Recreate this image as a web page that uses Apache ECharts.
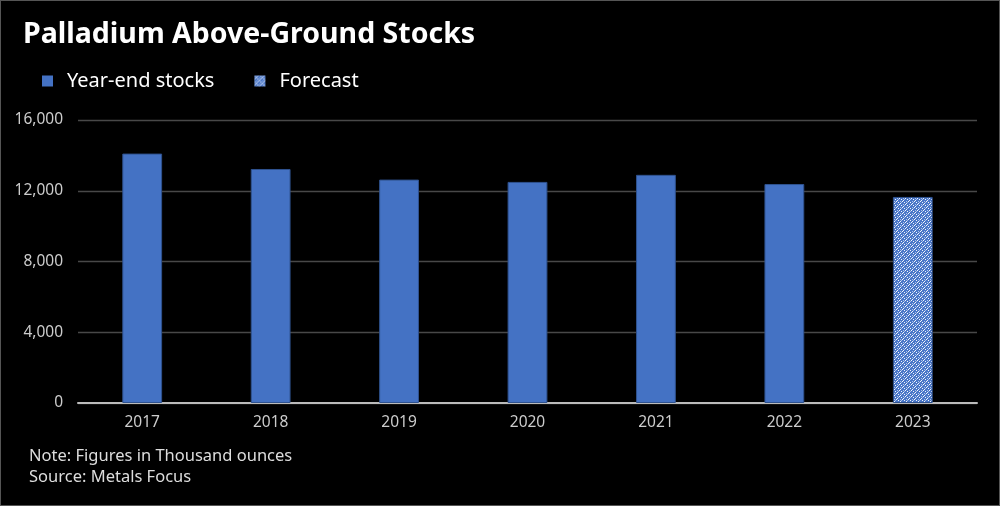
<!DOCTYPE html>
<html>
<head>
<meta charset="utf-8">
<script src="https://cdn.jsdelivr.net/npm/echarts@6/dist/echarts.min.js"></script>
<style>
html,body{margin:0;padding:0;background:#000;}
#c{width:1000px;height:506px;box-sizing:border-box;border:1px solid #555;}
</style>
</head>
<body>
<div id="c"></div>
<script>
const categories = ['2017','2018','2019','2020','2021','2022','2023'];
const stocks = [14100, 13230, 12630, 12500, 12900, 12380, null];
const forecast = [null, null, null, null, null, null, 11650];
const yTicks = [0, 4000, 8000, 12000, 16000];

function makePattern(){
  const c = document.createElement('canvas');
  c.width = 6; c.height = 6;
  const g = c.getContext('2d');
  g.fillStyle = '#4a77c8';
  g.fillRect(0,0,6,6);
  g.fillStyle = '#f2f5fc';
  g.fillRect(0,0,1,1); g.fillRect(3,3,1,1);
  g.fillRect(2,1,1,1); g.fillRect(1,2,1,1);
  g.fillRect(4,5,1,1); g.fillRect(5,4,1,1);
  g.fillStyle = '#a9bfe8';
  g.fillRect(3,0,1,1); g.fillRect(0,3,1,1);
  g.fillRect(5,2,1,1); g.fillRect(2,5,1,1);
  return c;
}
const pat = makePattern();

const chart = echarts.init(document.getElementById('c'));
const font = '"Noto Sans", sans-serif';
chart.setOption({
  backgroundColor: '#000',
  animation: false,
  textStyle: {fontFamily: font},
  title: [{
    text: 'Palladium Above-Ground Stocks',
    left: 17, top: 14,
    textStyle: {color: '#fff', fontSize: 28.5, fontWeight: 'bold', fontFamily: font}
  },{
    text: 'Note: Figures in Thousand ounces\nSource: Metals Focus',
    left: 23, top: 440,
    textStyle: {color: '#ddd', fontSize: 16.5, fontWeight: 'normal', lineHeight: 21, fontFamily: font}
  }],
  legend: {
    left: 36, top: 65,
    itemWidth: 11, itemHeight: 11, itemGap: 40,
    icon: 'rect',
    textStyle: {color: '#fff', fontSize: 20, padding: [0,0,0,9], fontFamily: font},
    data: [
      {name: 'Year-end stocks', itemStyle: {borderWidth: 0}},
      {name: 'Forecast', itemStyle: {borderWidth: 0}}
    ]
  },
  grid: {left: 77, right: 22, top: 119, bottom: 102},
  xAxis: {
    type: 'category',
    data: categories,
    axisLine: {lineStyle: {color: '#bbb', width: 2}},
    axisTick: {show: false},
    axisLabel: {color: '#ccc', fontSize: 15.5, margin: 12}
  },
  yAxis: {
    type: 'value',
    min: yTicks[0], max: yTicks[yTicks.length-1], interval: 4000,
    axisLine: {show: false},
    axisTick: {show: false},
    splitLine: {lineStyle: {color: '#484848', width: 1.3}},
    axisLabel: {color: '#ccc', fontSize: 15.5, margin: 15,
      formatter: v => v.toLocaleString('en-US')}
  },
  series: [{
    name: 'Year-end stocks', type: 'bar', stack: 's',
    data: stocks, barWidth: '31%',
    itemStyle: {color: '#4472C4', borderColor: '#2f528f', borderWidth: 1}
  },{
    name: 'Forecast', type: 'bar', stack: 's',
    data: forecast, barWidth: '31%',
    itemStyle: {color: {image: pat, repeat: 'repeat'}, borderColor: '#2f528f', borderWidth: 1}
  }]
});
</script>
</body>
</html>
